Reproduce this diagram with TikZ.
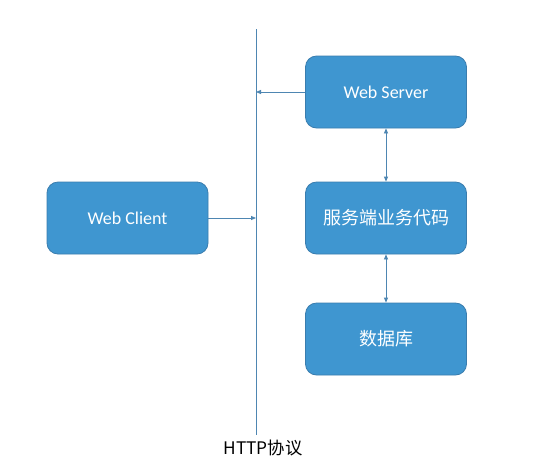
\documentclass[tikz,border=0pt]{standalone}
\usepackage{fontspec}
\setmainfont{Carlito}
\newfontfamily\cjk{Noto Sans CJK SC}
\usetikzlibrary{arrows.meta}
\definecolor{boxfill}{HTML}{3F96D0}
\definecolor{boxline}{HTML}{3A7DAE}
\definecolor{conn}{HTML}{4E86B2}
\begin{document}
\begin{tikzpicture}[x=1pt,y=-1pt,
  box/.style={draw=boxline, line width=0.8pt, fill=boxfill, rounded corners=11pt,
    minimum width=161pt, minimum height=72pt, inner sep=0pt,
    text=white, font=\fontsize{18}{21}\selectfont},
  conn/.style={draw=conn, line width=0.8pt},
  tip/.style={-{Triangle[length=5pt,width=4pt]}},
  tips/.style={{Triangle[length=5pt,width=4pt]}-{Triangle[length=5pt,width=4pt]}}]
\useasboundingbox (0,0) rectangle (533,459);
\fill[white] (0,0) rectangle (533,459);
\node[box] (server) at (386,92) {Web Server};
\node[box] (logic) at (386,218) {\cjk 服务端业务代码};
\node[box] (db) at (386,339) {\cjk 数据库};
\node[box] (client) at (127.5,218) {Web Client};
\coordinate (ltop) at (256,29);
\coordinate (lbot) at (256,435);
\coordinate (hs) at (256,92);
\coordinate (hc) at (256,218);
\draw[conn] (ltop) -- (lbot);
\draw[conn,tip] (server.west) -- (hs);
\draw[conn,tip] (client.east) -- (hc);
\draw[conn,tips] (server.south) -- (logic.north);
\draw[conn,tips] (logic.south) -- (db.north);
\node[font=\cjk\fontsize{17.3}{20}\selectfont, text=black] (http) at (263,448) {HTTP协议};
\end{tikzpicture}
\end{document}
